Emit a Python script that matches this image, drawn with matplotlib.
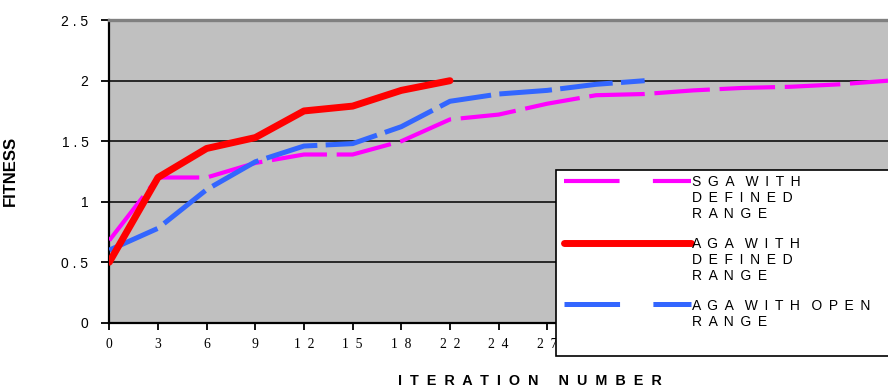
import matplotlib
matplotlib.use("Agg")
import matplotlib.pyplot as plt
from matplotlib.lines import Line2D
from matplotlib.patches import Rectangle

# ---- data ----
x_labels = ["0", "3", "6", "9", "1  2", "1  5", "1  8", "2  2", "2  4", "2  7",
            "3  0", "3  3", "3  6", "3  9", "4  2", "4  5"]
sga_defined = [0.68, 1.20, 1.20, 1.32, 1.39, 1.39, 1.50, 1.68, 1.72, 1.81,
               1.88, 1.89, 1.92, 1.94, 1.95, 1.97, 2.00]
aga_defined = [0.50, 1.20, 1.44, 1.53, 1.75, 1.79, 1.92, 2.00]
aga_open = [0.60, 0.78, 1.10, 1.33, 1.46, 1.48, 1.62, 1.83, 1.89, 1.92, 1.97, 2.00]
G = " \u2009"      # letter gap
WG = "   "         # word gap
series_labels = [
    G.join("SGA") + WG + G.join("WITH") + "\n" + G.join("DEFINED") + "\n" + G.join("RANGE"),
    G.join("AGA") + WG + G.join("WITH") + "\n" + G.join("DEFINED") + "\n" + G.join("RANGE"),
    G.join("AGA") + WG + G.join("WITH") + WG + G.join("OPEN") + "\n" + G.join("RANGE"),
]
y_ticks = [0, 0.5, 1, 1.5, 2, 2.5]
y_tick_labels = ["0", "0 . 5", "1", "1 . 5", "2", "2 . 5"]
x_title = "I  T  E  R  A  T  I  O  N     N  U  M  B  E  R"
y_title = "FITNESS"

plt.rcParams['font.family'] = ['Liberation Sans', 'DejaVu Sans']
plt.rcParams['lines.scale_dashes'] = False

W, H = 888, 390
fig = plt.figure(figsize=(W / 100, H / 100), dpi=100)

left, right, top, bottom = 109.3, 888.0, 20.2, 322.7
ax = fig.add_axes([left / W, 1 - bottom / H, (right - left) / W, (bottom - top) / H])
ax.set_facecolor('#C0C0C0')

ax.set_xlim(0, 16)
ax.set_ylim(0, 2.5)

# grid
ax.set_yticks(y_ticks)
ax.set_yticklabels(y_tick_labels)
ax.yaxis.grid(True, color='black', linewidth=1.1)
ax.set_axisbelow(True)

ax.set_xticks(range(len(x_labels)))
ax.set_xticklabels(x_labels, fontfamily='Liberation Serif', fontsize=9.8)

# lines
l_sga, = ax.plot(range(len(sga_defined)), sga_defined, color='#FF00FF',
                 linewidth=3.0, linestyle=(0, (40, 7)), solid_capstyle='butt',
                 dash_capstyle='butt', zorder=3)
l_open, = ax.plot(range(len(aga_open)), aga_open, color='#3366FF',
                  linewidth=3.6, linestyle=(0, (38, 6)), dash_capstyle='butt',
                  zorder=4)
l_def, = ax.plot(range(len(aga_defined)), aga_defined, color='#FF0000',
                 linewidth=5.0, solid_capstyle='round', solid_joinstyle='round',
                 zorder=5)

# spines
for s in ['left', 'bottom']:
    ax.spines[s].set_color('black')
    ax.spines[s].set_linewidth(1.6)
ax.spines['right'].set_visible(False)
ax.spines['top'].set_color('#808080')
ax.spines['top'].set_linewidth(2.4)

ax.tick_params(axis='y', direction='out', length=6, width=1.3, labelsize=10,
               pad=9, colors='black')
ax.tick_params(axis='x', direction='out', length=5, width=1.3, pad=6,
               colors='black')

ax.set_ylabel(y_title, fontweight='bold', fontsize=12)
ax.yaxis.set_label_coords((18 - left) / (right - left), (bottom - 171) / (bottom - top))
ax.set_xlabel(x_title, fontweight='bold', fontsize=10.4, va='center')
ax.xaxis.set_label_coords((530 - left) / (right - left), (bottom - 381) / (bottom - top))

# legend (manual layout)
lx0, ly0, ly1 = 556, 170, 356
fig.add_artist(Rectangle((lx0 / W, 1 - ly1 / H), (W + 10 - lx0) / W, (ly1 - ly0) / H,
                         transform=fig.transFigure, facecolor='white',
                         edgecolor='black', linewidth=1.2, zorder=10))
handle_y = [181, 243, 304]
text_y = [175, 237, 299]
for line, label, hy, ty in zip([l_sga, l_def, l_open], series_labels, handle_y, text_y):
    ls = line.get_linestyle()
    legline = Line2D([564 / W, 691 / W], [1 - hy / H, 1 - hy / H],
                     transform=fig.transFigure, color=line.get_color(),
                     linewidth=line.get_linewidth(),
                     linestyle='-' if ls == '-' else (0, (40, 24)),
                     solid_capstyle=line.get_solid_capstyle(),
                     dash_capstyle='butt', zorder=11)
    fig.add_artist(legline)
    fig.text(692 / W, 1 - ty / H, label, fontsize=10, ha='left', va='top',
             zorder=11, linespacing=1.2)

fig.savefig('out.png', dpi=100)
